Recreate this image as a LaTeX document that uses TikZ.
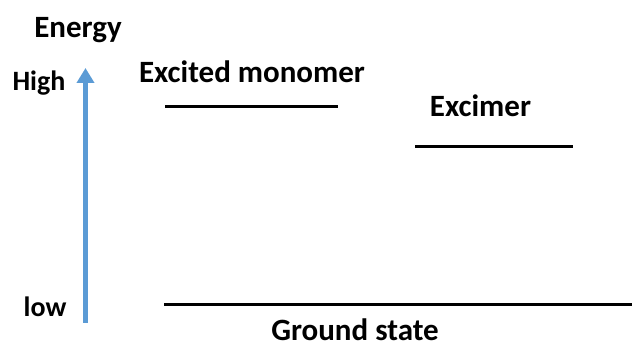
\documentclass[tikz,border=0pt]{standalone}
\usepackage{fontspec}
\setmainfont{Carlito}
\usetikzlibrary{arrows.meta}
\definecolor{axisblue}{HTML}{5B9BD5}
\begin{document}
\begin{tikzpicture}[x=1pt,y=-1pt,
  biglabel/.style={font=\bfseries\fontsize{31}{36}\selectfont,inner sep=0pt,anchor=base},
  smalllabel/.style={font=\bfseries\fontsize{28}{32}\selectfont,inner sep=0pt,anchor=base},
  level/.style={line width=3pt,black},
  axis/.style={line width=4.5pt,axisblue,-{Triangle[length=15pt,width=17pt]}}]
\useasboundingbox (0,0) rectangle (632,347);
% energy axis
\coordinate (axlow) at (85.5,323);
\coordinate (axhigh) at (85.5,68);
\draw[axis] (axlow) -- (axhigh);
\node[biglabel] (energy) at (78,38) {Energy};
\node[smalllabel] (high) at (39,91) {High};
\node[smalllabel] (low) at (45,317) {low};
% energy levels
\coordinate (monoL) at (165,107);
\coordinate (monoR) at (338,107);
\draw[level] (monoL) -- (monoR);
\node[biglabel] (mono) at (252,83) {Excited monomer};
\coordinate (excL) at (415,147);
\coordinate (excR) at (573,147);
\draw[level] (excL) -- (excR);
\node[biglabel] (exc) at (480.5,117) {Excimer};
\coordinate (gndL) at (164,305);
\coordinate (gndR) at (632,305);
\draw[level] (gndL) -- (gndR);
\node[biglabel] (gnd) at (355,341) {Ground state};
\end{tikzpicture}
\end{document}
